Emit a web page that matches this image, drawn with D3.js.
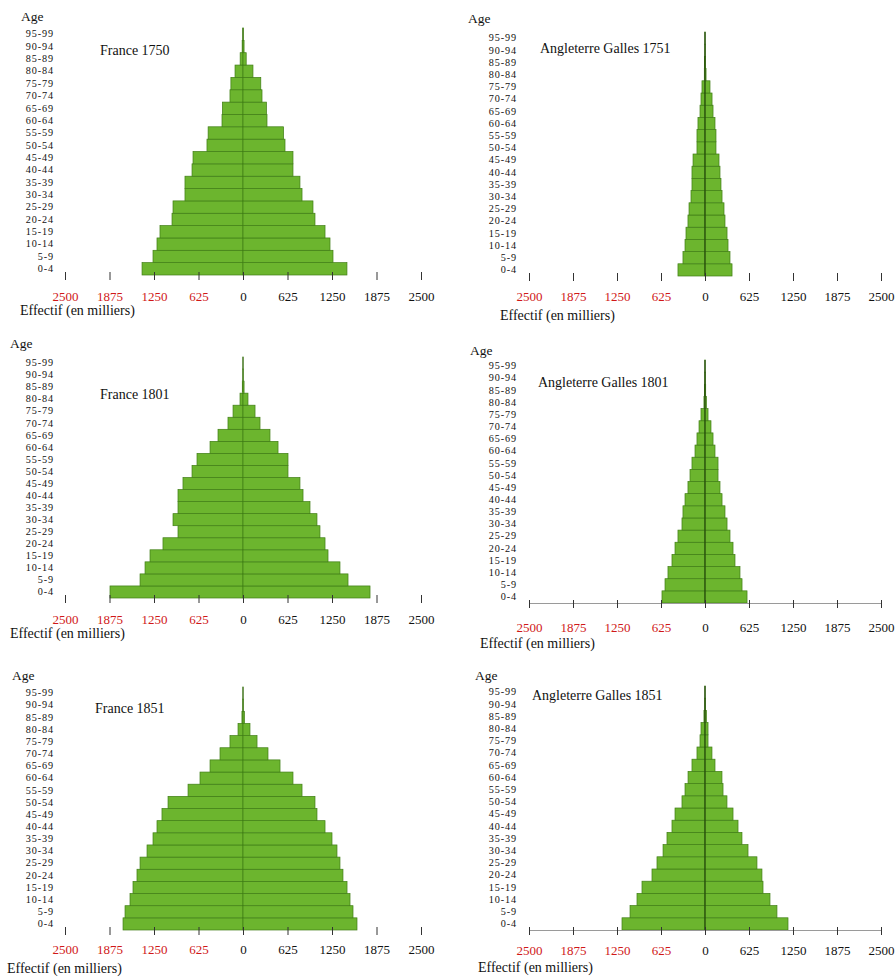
<!DOCTYPE html>
<html>
<head>
<meta charset="utf-8">
<script src="https://cdn.jsdelivr.net/npm/d3@7"></script>
<style>
  body { margin: 0; background: #fff; }
  svg { display: block; }
  text { font-family: "Liberation Serif", "Times New Roman", serif; }
</style>
</head>
<body>
<svg id="chart" width="895" height="980"></svg>
<script>
// Age groups, youngest first
const ageGroups = ["0-4","5-9","10-14","15-19","20-24","25-29","30-34","35-39","40-44","45-49",
  "50-54","55-59","60-64","65-69","70-74","75-79","80-84","85-89","90-94","95-99"];

// Axis ticks (thousands); the left half is drawn as absolute values
const tickValues = [-2500, -1875, -1250, -625, 0, 625, 1250, 1875, 2500];

// Effectifs in thousands, left side then right side, per age group
const france1750Gauche = [1418,1264,1208,1166,997,983,815,815,716,702,506,490,295,290,183,170,112,40,12,3];
const france1750Droite = [1460,1264,1222,1152,1011,983,829,800,702,702,590,570,337,330,267,250,140,45,15,4];

const france1801Gauche = [1868,1446,1376,1306,1124,913,983,913,913,843,716,646,463,351,211,140,42,10,2,0.5];
const france1801Droite = [1784,1475,1362,1194,1152,1081,1039,941,843,800,632,632,492,379,239,169,70,15,3,0.5];

const france1851Gauche = [1685,1657,1587,1545,1489,1446,1348,1264,1208,1138,1053,772,604,463,323,183,70,15,3,0.5];
const france1851Droite = [1601,1545,1503,1461,1404,1362,1320,1250,1152,1039,1011,829,702,520,351,197,98,20,4,0.5];

const angleterre1751Gauche = [384,313,284,270,242,227,199,185,185,170,114,114,100,71,57,43,10,5,2,1];
const angleterre1751Droite = [384,355,327,313,284,270,242,227,213,199,156,156,142,114,100,71,15,8,3,1];

const angleterre1801Gauche = [611,568,526,469,426,384,327,313,284,242,213,185,142,114,85,57,15,8,3,1];
const angleterre1801Droite = [597,526,497,426,398,355,313,284,242,213,185,185,142,114,85,43,20,10,4,1];

const angleterre1851Gauche = [1179,1065,966,895,753,682,596,540,469,426,327,284,241,185,114,71,57,15,4,1];
const angleterre1851Droite = [1179,1022,923,824,809,738,611,525,469,398,312,256,241,142,99,43,43,20,5,1];

const titles = ["France 1750", "Angleterre Galles 1751", "France 1801",
                "Angleterre Galles 1801", "France 1851", "Angleterre Galles 1851"];
const axisTitle = "Effectif (en milliers)";
const ageTitle = "Age";

// Panel placement
const panels = [
  { title: titles[0], left: france1750Gauche, right: france1750Droite,
    x0: 65, x1: 421, top: 28, bottom: 275, ageX: 54, ageT: [21, 21], titlePos: [100, 55],
    tickY: 26, axisT: [20, 315], domain: false, centerOver: false },
  { title: titles[1], left: angleterre1751Gauche, right: angleterre1751Droite,
    x0: 529, x1: 881, top: 32, bottom: 276, ageX: 517, ageT: [468, 23], titlePos: [540, 53],
    tickY: 25, axisT: [500, 320], domain: false, centerOver: true },
  { title: titles[2], left: france1801Gauche, right: france1801Droite,
    x0: 65, x1: 421, top: 357, bottom: 598, ageX: 54, ageT: [10, 348], titlePos: [100, 399],
    tickY: 26, axisT: [10, 638], domain: false, centerOver: false },
  { title: titles[3], left: angleterre1801Gauche, right: angleterre1801Droite,
    x0: 529, x1: 881, top: 360, bottom: 603, ageX: 517, ageT: [470, 355], titlePos: [538, 387],
    tickY: 29, axisT: [480, 648], domain: true, centerOver: true },
  { title: titles[4], left: france1851Gauche, right: france1851Droite,
    x0: 65, x1: 421, top: 687, bottom: 930, ageX: 54, ageT: [12, 680], titlePos: [95, 713],
    tickY: 24, axisT: [7, 973], domain: false, centerOver: false },
  { title: titles[5], left: angleterre1851Gauche, right: angleterre1851Droite,
    x0: 529, x1: 881, top: 686, bottom: 930, ageX: 517, ageT: [475, 680], titlePos: [532, 700],
    tickY: 25, axisT: [478, 972], domain: true, centerOver: true }
];

const svg = d3.select("#chart");
const fill = "#6cb52e";
const edge = "#3f7d14";
const serif = "'Liberation Serif', 'Times New Roman', serif";

panels.forEach(p => {
  const g = svg.append("g");
  const x = d3.scaleLinear().domain([-2500, 2500]).range([p.x0, p.x1]);
  const y = d3.scaleBand().domain(ageGroups.slice().reverse()).range([p.top, p.bottom]).padding(0);

  const rows = ageGroups.map((a, i) => ({ age: a, l: p.left[i], r: p.right[i] }));

  const centre = () => g.append("line")
    .attr("x1", x(0)).attr("x2", x(0))
    .attr("y1", p.top).attr("y2", p.bottom)
    .attr("stroke", p.centerOver ? "#1f3d08" : "#8a8a8a")
    .attr("stroke-width", 1);

  if (!p.centerOver) centre();

  // Left half
  g.selectAll(".bl").data(rows).join("rect")
    .attr("x", d => x(-d.l)).attr("width", d => x(0) - x(-d.l))
    .attr("y", d => y(d.age)).attr("height", y.bandwidth())
    .attr("fill", fill).attr("stroke", edge).attr("stroke-width", 0.7);

  // Right half
  g.selectAll(".br").data(rows).join("rect")
    .attr("x", x(0)).attr("width", d => x(d.r) - x(0))
    .attr("y", d => y(d.age)).attr("height", y.bandwidth())
    .attr("fill", fill).attr("stroke", edge).attr("stroke-width", 0.7);

  if (p.centerOver) centre();

  // Age labels
  const yAxis = g.append("g")
    .attr("transform", `translate(${p.ageX},0)`)
    .call(d3.axisLeft(y).tickSize(0).tickPadding(0));
  yAxis.select(".domain").remove();
  yAxis.selectAll("text")
    .attr("font-family", serif)
    .attr("font-size", 10.2)
    .attr("letter-spacing", 0.9)
    .attr("fill", "#111");

  // Horizontal axis
  const xAxis = g.append("g")
    .attr("transform", `translate(0,${p.bottom})`)
    .call(d3.axisBottom(x).tickValues(tickValues).tickFormat(v => Math.abs(v)).tickSize(5));
  xAxis.select(".domain")
    .attr("stroke", p.domain ? "#9a9a9a" : "none");
  xAxis.selectAll(".tick line").attr("stroke", "#333").attr("y1", -3);
  xAxis.selectAll("text")
    .attr("y", p.tickY).attr("dy", 0)
    .attr("font-family", serif)
    .attr("font-size", 13)
    .attr("fill", v => v < 0 ? "#d01818" : "#111");

  g.append("text").attr("x", p.ageT[0]).attr("y", p.ageT[1])
    .attr("font-size", 13.5).attr("fill", "#111").text(ageTitle);

  g.append("text").attr("x", p.titlePos[0]).attr("y", p.titlePos[1])
    .attr("font-size", 14).attr("fill", "#111").text(p.title);

  g.append("text").attr("x", p.axisT[0]).attr("y", p.axisT[1])
    .attr("font-size", 14).attr("fill", "#111").text(axisTitle);
});
</script>
</body>
</html>
